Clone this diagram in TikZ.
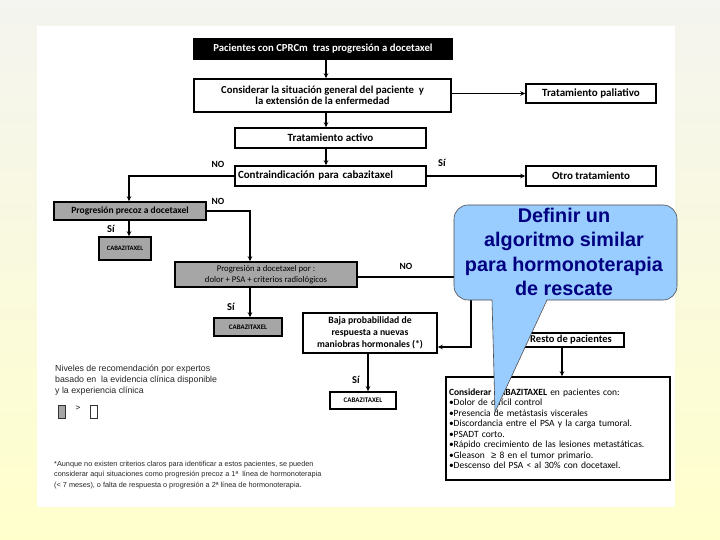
\documentclass[tikz,border=0pt]{standalone}
\usepackage{fontspec}
\setmainfont{Carlito}
\newfontfamily\arialf{Liberation Sans}
\usetikzlibrary{arrows.meta}
\definecolor{bgtop}{HTML}{F4F4F0}
\definecolor{bgbot}{HTML}{FFFFCC}
\definecolor{grayfill}{HTML}{A6A6A6}
\definecolor{callfill}{HTML}{99CCFF}
\definecolor{calltext}{HTML}{000080}
\begin{document}
\begin{tikzpicture}[x=1pt,y=-1pt,
  box/.style={draw=black, line width=1.5pt, fill=white, inner sep=1pt, align=center, font=\fontsize{11}{11}\selectfont\bfseries},
  gbox/.style={box, fill=grayfill},
  arr/.style={line width=1.4pt, -{Stealth[length=5pt,width=4.5pt]}},
  lab/.style={font=\fontsize{9.5}{10}\selectfont\bfseries, inner sep=0pt},
  note/.style={font=\arialf\fontsize{7.3}{10.5}\selectfont, align=left, inner sep=0pt, anchor=north west, text=black!85}
]
\useasboundingbox (0,0) rectangle (720,540);
\shade[top color=bgtop, bottom color=bgbot] (0,0) rectangle (720,540);
\fill[white] (37,26) rectangle (675,507);

% nodes
\node[box, fill=black, text=white, minimum width=258, minimum height=20, font=\fontsize{10.7}{11}\selectfont\bfseries] (title) at (323,49) {Pacientes con CPRCm\ \ tras progresión a docetaxel};
\node[box, minimum width=257, minimum height=33, font=\fontsize{10.7}{11}\selectfont\bfseries] (consid) at (322.5,95.5) {Considerar la situación general del paciente\ \ y\\la extensión de la enfermedad};
\node[box, minimum width=130, minimum height=19] (paliat) at (591,93.5) {Tratamiento paliativo};
\node[box, minimum width=191, minimum height=20] (activo) at (330.5,138) {Tratamiento activo};
\node[box, minimum width=191, minimum height=20, text width=185, align=left] (contra) at (330.5,176) {Contraindicación para cabazitaxel};
\node[box, minimum width=130, minimum height=20] (otro) at (591,176) {Otro tratamiento};
\node[gbox, minimum width=152, minimum height=18, font=\fontsize{9.5}{10}\selectfont\bfseries] (precoz) at (130,211) {Progresión precoz a docetaxel};
\node[gbox, minimum width=52, minimum height=23, font=\fontsize{6.6}{8}\selectfont\bfseries] (cab1) at (125,248.5) {CABAZITAXEL};
\node[gbox, minimum width=182, minimum height=25, font=\fontsize{8.7}{11}\selectfont] (progdoc) at (266,274.5) {Progresión a docetaxel por :\\dolor + PSA + criterios radiológicos};
\node[gbox, minimum width=68, minimum height=18, font=\fontsize{6.9}{8}\selectfont\bfseries] (cab2) at (248,327) {CABAZITAXEL};
\node[box, minimum width=134, minimum height=40, font=\fontsize{9.7}{12}\selectfont\bfseries] (baja) at (370,333) {Baja probabilidad de\\respuesta a nuevas\\maniobras hormonales (*)};
\node[box, minimum width=66, minimum height=17, font=\fontsize{7}{8}\selectfont\bfseries] (cab3) at (363,400.5) {CABAZITAXEL};
\node[box, minimum width=106, minimum height=14, inner sep=0pt, font=\fontsize{10.5}{11}\selectfont\bfseries] (resto) at (571,340) {Resto de pacientes};
\node[box, minimum width=224, minimum height=103, text width=218, align=left, font=\fontsize{9.5}{10.5}\selectfont\mdseries] (conscab) at (558,428.5) {\textbf{Considerar CABAZITAXEL} en pacientes con:\\•Dolor de difícil control\\•Presencia de metástasis viscerales\\•Discordancia entre el PSA y la carga tumoral.\\•PSADT corto.\\•Rápido crecimiento de las lesiones metastáticas.\\•Gleason\ \ {\arialf ≥}\ 8 en el tumor primario.\\•Descenso del PSA < al 30\% con docetaxel.};

% connectors
\coordinate (c1) at (326,0);
\coordinate (c2) at (250,0);
\coordinate (c3) at (129,0);
\coordinate (c5) at (368,0);
\coordinate (c6) at (562,0);
\coordinate (j1) at (471,277);
\coordinate (j2) at (471,347);
\draw[arr] (title.south -| c1) -- (consid.north -| c1);
\draw[arr] (consid.south -| c1) -- (activo.north -| c1);
\draw[arr] (activo.south -| c1) -- (contra.north -| c1);
\draw[arr] (consid.east |- paliat.west) -- (paliat.west);
\draw[arr] (contra.east) -- (otro.west);
\draw[arr] (contra.west) -| (c3 |- precoz.north);
\draw[arr] (precoz.east) -| (c2 |- progdoc.north);
\draw[arr] (c3 |- precoz.south) -- (c3 |- cab1.north);
\draw[arr] (c2 |- progdoc.south) -- (c2 |- cab2.north);
\draw[arr] (progdoc.east |- j1) -- (j1) -- (j2) -- (baja.east |- j2);
\draw[arr] (c5 |- baja.south) -- (c5 |- cab3.north);
\draw[arr] (c6 |- resto.south) -- (c6 |- conscab.north);

% labels
\node[lab] (no1) at (218,164) {NO};
\node[lab, font=\fontsize{10.5}{11}\selectfont\bfseries] (si1) at (442,163) {Sí};
\node[lab] (no2) at (218,201) {NO};
\node[lab, font=\fontsize{10.5}{11}\selectfont\bfseries] (si2) at (111,229) {Sí};
\node[lab, font=\fontsize{10.5}{11}\selectfont\bfseries] (si3) at (231,307) {Sí};
\node[lab] (no3) at (406,266) {NO};
\node[lab, font=\fontsize{10.5}{11}\selectfont\bfseries] (si4) at (356,380) {Sí};

% legend and footnote
\node[note, font=\arialf\fontsize{8.8}{11}\selectfont] (niv) at (55,364.5) {Niveles de recomendación por expertos\\basado en\ \ la evidencia clínica disponible\\y la experiencia clínica};
\node[draw=black!80, fill=grayfill, line width=0.5pt, minimum width=7, minimum height=13, inner sep=0pt] (lg1) at (61.5,411.5) {};
\node[font=\arialf\fontsize{8}{8}\selectfont, inner sep=0pt] (gt) at (78,408) {>};
\node[draw=black!80, fill=white, line width=0.5pt, minimum width=7, minimum height=13, inner sep=0pt] (lg2) at (94,411.5) {};
\node[note] (foot) at (54,461) {*Aunque no existen criterios claros para identificar a estos pacientes, se pueden\\considerar aquí situaciones como progresión precoz a 1ª\ \ línea de hormonoterapia\\(< 7 meses), o falta de respuesta o progresión a 2ª línea de hormonoterapia.};

% callout
\draw[draw=black!70, line width=0.6pt, fill=callfill, rounded corners=14pt] (454,205) rectangle (677,300);
\fill[callfill] (492,299) -- (495,412) -- (547,299) -- cycle;
\draw[black!70, line width=0.6pt] (492,300) -- (495,412) -- (547,300);
\node[font=\arialf\bfseries\fontsize{19.8}{24.3}\selectfont, text=calltext, align=center] (callout) at (564,252) {Definir un\\algoritmo similar\\para hormonoterapia\\de rescate};
\end{tikzpicture}
\end{document}
